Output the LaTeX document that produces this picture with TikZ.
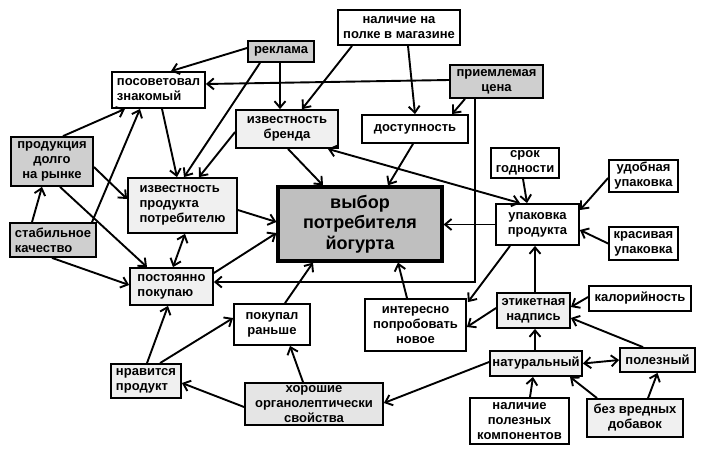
\documentclass[tikz,border=0pt]{standalone}
\usepackage{fontspec}
\setmainfont{Liberation Sans}
\usetikzlibrary{arrows.meta,calc}
\begin{document}
\begin{tikzpicture}[x=1pt,y=-1pt,
  box/.style={draw=black, line width=1.8pt, fill=white, font=\bfseries\fontsize{13}{15}\selectfont, align=center, inner sep=1pt},
  lite/.style={box, fill=gray!12},
  mid/.style={box, fill=gray!38},
  horo/.style={box, fill=gray!20},
  main/.style={draw=black, line width=3.2pt, fill=gray!50, font=\bfseries\fontsize{18}{20.5}\selectfont, align=center, inner sep=1pt},
  con/.style={line width=1.9pt, -{Straight Barb[length=6.5pt,width=11pt]}},
  dcon/.style={line width=1.9pt, {Straight Barb[length=6.5pt,width=11pt]}-{Straight Barb[length=6.5pt,width=11pt]}}
]
\useasboundingbox (0,0) rectangle (709,458);

% nodes
\node[mid, minimum width=66, minimum height=21] (rek) at (281,51.5) {реклама};
\node[box, align=left, minimum width=93, minimum height=36] (pos) at (158.5,90) {посоветовал\\знакомый};
\node[mid, minimum width=82, minimum height=49] (prod) at (52,161.5) {продукция\\долго\\на рынке};
\node[lite, minimum width=102, minimum height=38] (brand) at (287,129) {известность\\бренда};
\node[lite, align=left, minimum width=109, minimum height=55] (izvp) at (182.5,205.5) {известность\\продукта\\потребителю};
\node[main, minimum width=164, minimum height=74] (vyb) at (360,224) {выбор\\потребителя\\йогурта};
\node[mid, align=left, minimum width=86, minimum height=34] (stab) at (53,240) {стабильное\\качество};
\node[lite, align=left, minimum width=83, minimum height=37] (post) at (171.5,286.5) {постоянно\\покупаю};
\node[box, minimum width=76, minimum height=41] (kup) at (272,324.5) {покупал\\раньше};
\node[lite, align=left, minimum width=70, minimum height=34] (nrav) at (146,381) {нравится\\продукт};
\node[horo, minimum width=138, minimum height=42] (hor) at (314,404) {хорошие\\органолептически\\свойства};
\node[box, minimum width=122, minimum height=35] (nal) at (399,27.5) {наличие на\\полке в магазине};
\node[mid, minimum width=93, minimum height=33] (cena) at (496.5,81.5) {приемлемая\\цена};
\node[box, minimum width=106, minimum height=28] (dost) at (415,129) {доступность};
\node[box, minimum width=68, minimum height=30] (srok) at (525,163) {срок\\годности};
\node[box, minimum width=69, minimum height=32] (udob) at (643.5,176) {удобная\\упаковка};
\node[box, minimum width=83, minimum height=41] (upak) at (537.5,224.5) {упаковка\\продукта};
\node[box, minimum width=69, minimum height=33] (kras) at (643.5,243.5) {красивая\\упаковка};
\node[box, minimum width=102, minimum height=25] (kal) at (640,298.5) {калорийность};
\node[lite, minimum width=73, minimum height=35] (etik) at (533.5,310.5) {этикетная\\надпись};
\node[box, minimum width=101, minimum height=52] (inter) at (415.5,325) {интересно\\попробовать\\новое};
\node[lite, minimum width=92, minimum height=25] (nat) at (536,363.5) {натуральный};
\node[lite, minimum width=75, minimum height=24] (pol) at (657.5,360) {полезный};
\node[box, minimum width=99, minimum height=46] (nalp) at (519.5,421) {наличие\\полезных\\компонентов};
\node[lite, minimum width=96, minimum height=38] (bez) at (635,418) {без вредных\\добавок};

% connectors
\draw[con] ($(rek.west)+(0,-3.5)$) -- ($(pos.north)+(12.5,0)$);
\draw[con] ($(rek.south)+(-1,0)$) -- ($(brand.north)+(-7,0)$);
\draw[con] ($(rek.south)+(-21,0)$) -- ($(izvp.north)+(1.5,0)$);
\draw[con] ($(nal.south)+(-47,0)$) -- ($(brand.north)+(15,0)$);
\draw[con] ($(nal.south)+(9,0)$) -- (dost.north);
\draw[con] ($(cena.south)+(-31.5,0)$) -- ($(dost.north)+(37,0)$);
\draw[con] ($(cena.west)+(0,-1.5)$) -- ($(pos.east)+(0,-6)$);
\draw[con] ($(cena.south)+(-21.5,0)$) |- ($(post.east)+(0,-4.5)$);
\draw[con] ($(pos.south)+(3.5,0)$) -- ($(izvp.north)+(-5.5,0)$);
\draw[con] ($(prod.north)+(11,0)$) -- ($(pos.south)+(-33.5,0)$);
\draw[con] ($(stab.north)+(39,0)$) -- ($(pos.south)+(-18.5,0)$);
\draw[con] ($(stab.north)+(-21,0)$) -- ($(prod.south)+(-10,0)$);
\draw[con] ($(prod.east)+(0,5.5)$) -- ($(izvp.west)+(0,-6.5)$);
\draw[con] ($(prod.south)+(8,0)$) -- ($(post.north)+(-24.5,0)$);
\draw[con] ($(stab.south)+(-1,0)$) -- ($(post.west)+(0,-1.5)$);
\draw[con] ($(brand.west)+(0,3)$) -- ($(izvp.north)+(16.5,0)$);
\draw[con] ($(brand.south)+(1,0)$) -- ($(vyb.north)+(-37,0)$);
\draw[con] ($(dost.south)+(-2,0)$) -- ($(vyb.north)+(28,0)$);
\draw[con] ($(izvp.east)+(0,4.5)$) -- ($(vyb.west)+(0,-2)$);
\draw[dcon] ($(post.north)+(1.5,0)$) -- ($(izvp.south)+(2.5,0)$);
\draw[con] ($(post.east)+(0,-13.5)$) -- ($(vyb.west)+(0,9)$);
\draw[dcon] ($(brand.south east)+(-11,0)$) -- ($(upak.north)+(-17.5,0)$);
\draw[con] (upak.west) -- (upak.west -| vyb.east);
\draw[con] ($(srok.south)+(-2,0)$) -- ($(upak.north)+(-10.5,0)$);
\draw[con] ($(udob.west)+(0,2)$) -- ($(upak.east)+(0,-14.5)$);
\draw[con] (kras.west) -- ($(upak.east)+(0,5.5)$);
\draw[con] ($(upak.south)+(-27.5,0)$) -- ($(inter.north east)+(1,4)$);
\draw[con] ($(etik.north)+(1.5,0)$) -- ($(upak.south)+(-2.5,0)$);
\draw[con] ($(etik.west)+(0,-2.5)$) -- ($(inter.east)+(0,2)$);
\draw[con] ($(inter.north)+(-8.5,0)$) -- ($(vyb.south)+(38,0)$);
\draw[con] ($(kal.west)+(0,-1.5)$) -- ($(etik.east)+(0,-3.5)$);
\draw[con] ($(pol.north)+(-14.5,0)$) -- ($(etik.east)+(0,7.5)$);
\draw[con] ($(nat.north)+(-1,0)$) -- ($(etik.south)+(1.5,0)$);
\draw[dcon] (nat.east) -- (pol.west);
\draw[con] ($(nalp.north)+(10.5,0)$) -- ($(nat.south)+(-3,0)$);
\draw[con] ($(bez.north)+(-38,0)$) -- ($(nat.south)+(34,0)$);
\draw[con] ($(bez.north)+(13,0)$) -- (pol.south);
\draw[con] ($(nat.west)+(0,-1.5)$) -- ($(hor.east)+(0,-1)$);
\draw[con] ($(hor.north)+(-11,0)$) -- ($(kup.south)+(18,0)$);
\draw[con] ($(hor.west)+(0,3)$) -- ($(nrav.east)+(0,2)$);
\draw[con] ($(nrav.north)+(1,0)$) -- ($(post.south)+(-3.5,0)$);
\draw[con] ($(nrav.north)+(14,0)$) -- ($(kup.west)+(0,-6.5)$);
\draw[con] ($(kup.north)+(13,0)$) -- ($(vyb.south)+(-47,0)$);
\end{tikzpicture}
\end{document}
